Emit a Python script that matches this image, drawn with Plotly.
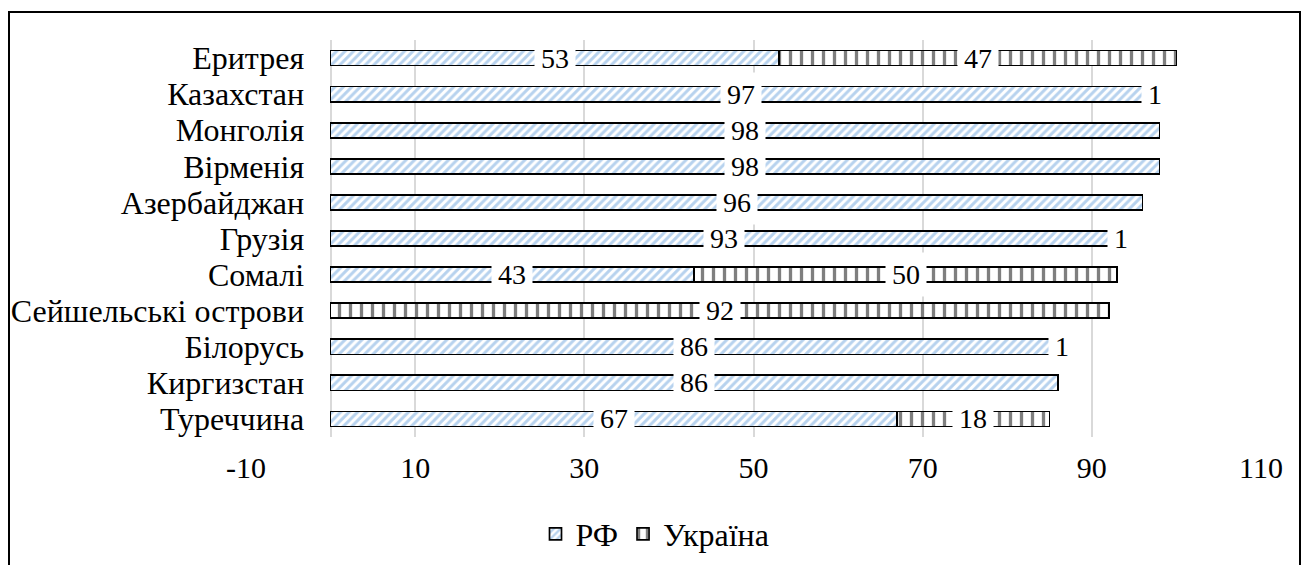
import plotly.graph_objects as go

categories = ["Еритрея", "Казахстан", "Монголія", "Вірменія", "Азербайджан", "Грузія",
              "Сомалі", "Сейшельські острови", "Білорусь", "Киргизстан", "Туреччина"]
rf_values = [53, 97, 98, 98, 96, 93, 43, 0, 86, 86, 67]
ua_values = [47, 1, 0, 0, 0, 1, 50, 92, 1, 0, 18]
series_names = ["РФ", "Україна"]
x_tick_values = [-10, 10, 30, 50, 70, 90, 110]
x_tick_labels = ["-10", "10", "30", "50", "70", "90", "110"]

FONT = "Liberation Serif"
FS_CAT = 32
FS_TICK = 30
FS_LABEL = 28
FS_LEG = 32

# layout geometry (pixels)
W, H = 1303, 565
L, R, T, B = 246, 42, 40, 128
PW = W - L - R
PH = H - T - B

fig = go.Figure()
fig.add_trace(go.Bar(
    y=categories, x=rf_values, orientation="h", name=series_names[0],
    marker=dict(color="white",
                line=dict(color="black", width=1.7),
                pattern=dict(shape="/", fgcolor="#6fa6de", bgcolor="white",
                             size=6, solidity=0.5, fillmode="overlay")),
))
fig.add_trace(go.Bar(
    y=categories, x=ua_values, orientation="h", name=series_names[1],
    marker=dict(color="white",
                line=dict(color="black", width=1.7),
                pattern=dict(shape="|", fgcolor="black", bgcolor="white",
                             size=11, solidity=0.3, fillmode="overlay")),
))

# data labels with white background, centred in each segment
annotations = []
for cat, a, b in zip(categories, rf_values, ua_values):
    if a:
        annotations.append(dict(x=a / 2, y=cat, xref="x", yref="y", text=str(a),
                                showarrow=False, bgcolor="white", borderpad=6,
                                font=dict(family=FONT, size=FS_LABEL, color="black")))
    if b:
        annotations.append(dict(x=a + b / 2, y=cat, xref="x", yref="y", text=str(b),
                                showarrow=False, bgcolor="white", borderpad=6,
                                font=dict(family=FONT, size=FS_LABEL, color="black")))

def px_to_paper_x(px):
    return (px - L) / PW

def px_to_paper_y(py):
    return (H - B - py) / PH

fig.update_layout(
    width=W, height=H,
    margin=dict(l=L, r=R, t=T, b=B, autoexpand=False),
    barmode="stack",
    bargap=0.58,
    plot_bgcolor="white",
    paper_bgcolor="white",
    font=dict(family=FONT, size=FS_CAT, color="black"),
    annotations=annotations,
    legend=dict(orientation="h", x=px_to_paper_x(655), xanchor="center",
                y=px_to_paper_y(534), yanchor="middle",
                font=dict(family=FONT, size=FS_LEG, color="black"),
                itemwidth=30, traceorder="normal"),
    shapes=[dict(type="rect", xref="paper", yref="paper",
                 x0=px_to_paper_x(9), x1=px_to_paper_x(1300),
                 y0=px_to_paper_y(580), y1=px_to_paper_y(12),
                 line=dict(color="black", width=2), fillcolor="rgba(0,0,0,0)",
                 layer="above")],
)
fig.update_xaxes(range=[-10, 110], tickvals=x_tick_values, ticktext=x_tick_labels,
                 showgrid=True, gridcolor="#d9d9d9", gridwidth=1.5, zeroline=True,
                 zerolinecolor="#d9d9d9", zerolinewidth=1.5, automargin=False,
                 ticks="outside", ticklen=0, ticklabelstandoff=4,
                 tickfont=dict(family=FONT, size=FS_TICK, color="black"), showline=False)
fig.update_yaxes(range=[len(categories) - 0.5, -0.5], anchor="free", automargin=False,
                 tickmode="array", tickvals=categories, ticktext=categories,
                 position=px_to_paper_x(330.5), showgrid=False, showline=False,
                 ticks="outside", ticklen=0, ticklabelstandoff=20,
                 tickfont=dict(family=FONT, size=FS_CAT, color="black"))

fig.write_html("out.html", config={"displayModeBar": False},
               post_script="document.body.style.margin='0';")
